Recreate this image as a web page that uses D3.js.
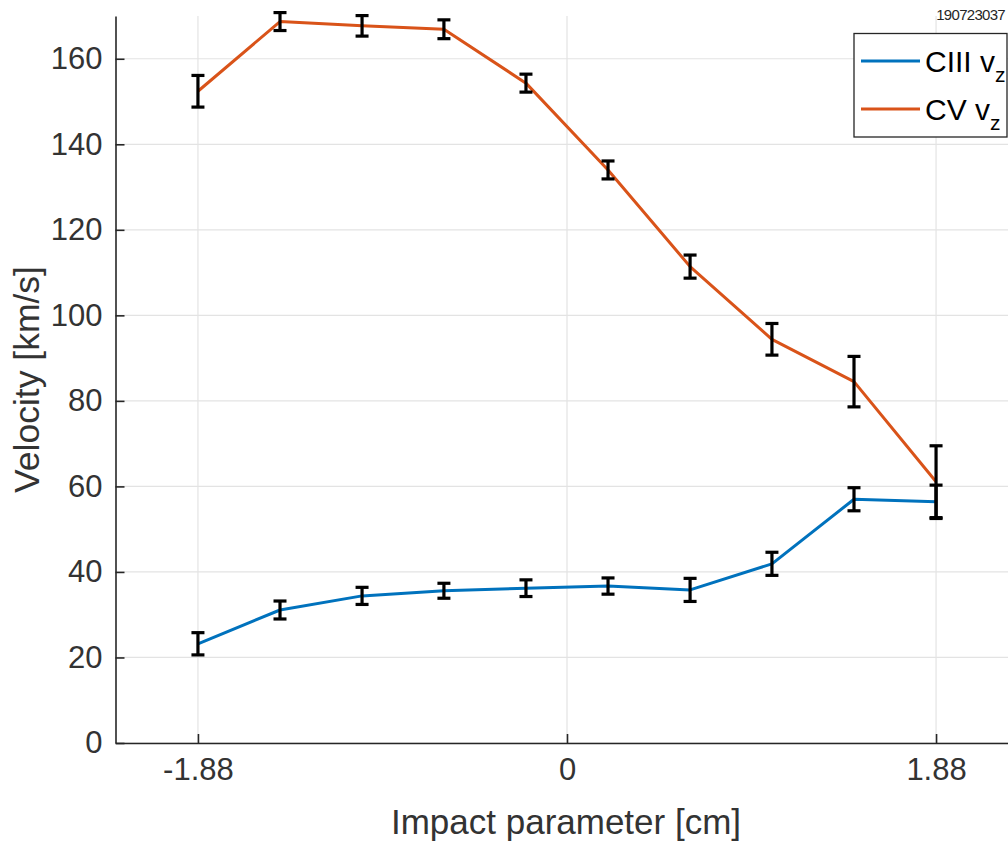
<!DOCTYPE html>
<html><head><meta charset="utf-8">
<script src="https://cdn.jsdelivr.net/npm/d3@7"></script>
<style>
html,body{margin:0;padding:0;background:#fff;}
svg{display:block;font-family:"Liberation Sans",Arial,Helvetica,sans-serif;}
</style></head>
<body><svg id="c" width="1008" height="841"></svg>
<script>
// Data
const impact = [-1.88, -1.462, -1.044, -0.627, -0.209, 0.209, 0.627, 1.044, 1.462, 1.88];
const ciiiVz = [23.2, 31.1, 34.4, 35.6, 36.2, 36.7, 35.8, 41.9, 57.0, 56.4];
const ciiiErr = [2.6, 2.1, 2.0, 1.75, 1.95, 1.9, 2.7, 2.7, 2.7, 3.9];
const cvVz = [152.4, 168.7, 167.7, 166.9, 154.3, 134.0, 111.4, 94.4, 84.5, 61.1];
const cvErr = [3.7, 2.1, 2.4, 2.2, 2.1, 2.1, 2.7, 3.7, 5.9, 8.4];
const xTicks = [-1.88, 0, 1.88];
const xTickLabels = ["-1.88", "0", "1.88"];
const yTicks = [0, 20, 40, 60, 80, 100, 120, 140, 160];
const seriesNames = ["CIII", "CV"];
const stamp = "190723037";

const svg = d3.select("#c");
const x = d3.scaleLinear().domain([-2.3, 2.3]).range([115.5, 1018.5]);
const y = d3.scaleLinear().domain([0, 170]).range([743, 16]);
const axisCol = "#262626";
const textCol = "#333333";

// grid
const g = svg.append("g");
g.selectAll("line.gy").data(yTicks).join("line")
  .attr("x1", x.range()[0]).attr("x2", x.range()[1])
  .attr("y1", d => y(d)).attr("y2", d => y(d))
  .attr("stroke", "#e3e3e3").attr("stroke-width", 1.2);
g.selectAll("line.gx").data(xTicks).join("line")
  .attr("x1", d => x(d)).attr("x2", d => x(d))
  .attr("y1", y.range()[0]).attr("y2", y.range()[1])
  .attr("stroke", "#e3e3e3").attr("stroke-width", 1.2);

// axes
const xAxis = d3.axisBottom(x).tickValues(xTicks).tickFormat((d, i) => xTickLabels[i]).tickSizeInner(-9).tickSizeOuter(0).tickPadding(15);
const yAxis = d3.axisLeft(y).tickValues(yTicks).tickSizeInner(-9).tickSizeOuter(0).tickPadding(13);
const gx = svg.append("g").attr("transform", `translate(0,${y(0)})`).call(xAxis);
const gy = svg.append("g").attr("transform", `translate(${x.range()[0]},0)`).call(yAxis);
[gx, gy].forEach(a => {
  a.select(".domain").attr("stroke", axisCol).attr("stroke-width", 1.6);
  a.selectAll(".tick line").attr("stroke", axisCol).attr("stroke-width", 1.6);
  a.selectAll(".tick text").attr("fill", textCol).style("font-size", "31px");
});
gx.selectAll(".tick text").attr("dy", "0.71em");

// labels
svg.append("text").attr("x", (x(-1.88) + x(1.88)) / 2 - 1).attr("y", 834)
  .attr("text-anchor", "middle").attr("fill", textCol).style("font-size", "35px")
  .text("Impact parameter [cm]");
svg.append("text").attr("transform", `translate(39,${(y(0) + y(170)) / 2}) rotate(-90)`)
  .attr("text-anchor", "middle").attr("fill", textCol).style("font-size", "35.5px")
  .text("Velocity [km/s]");

// series
const colors = ["#0072BD", "#D95319"];
const series = [
  {name: seriesNames[0], vals: ciiiVz, err: ciiiErr, color: colors[0]},
  {name: seriesNames[1], vals: cvVz, err: cvErr, color: colors[1]}
];
const line = d3.line().x(d => x(d[0])).y(d => y(d[1]));
series.forEach(s => {
  const pts = impact.map((v, i) => [v, s.vals[i], s.err[i]]);
  svg.append("path").datum(pts).attr("d", line).attr("fill", "none")
    .attr("stroke", s.color).attr("stroke-width", 3).attr("stroke-linejoin", "round");
  const eb = svg.append("g");
  const cap = 6.5;
  pts.forEach(p => {
    eb.append("line").attr("x1", x(p[0])).attr("x2", x(p[0]))
      .attr("y1", y(p[1] - p[2])).attr("y2", y(p[1] + p[2]))
      .attr("stroke", "#000").attr("stroke-width", 3.2);
    [p[1] - p[2], p[1] + p[2]].forEach(v => {
      eb.append("line").attr("x1", x(p[0]) - cap).attr("x2", x(p[0]) + cap)
        .attr("y1", y(v)).attr("y2", y(v)).attr("stroke", "#000").attr("stroke-width", 3.2);
    });
  });
});

// timestamp
svg.append("text").attr("x", 1005).attr("y", 20).attr("text-anchor", "end")
  .attr("fill", "#262626").style("font-size", "15px").style("letter-spacing", "-0.7px").text(stamp);

// legend
const lg = svg.append("g");
lg.append("rect").attr("x", 854).attr("y", 33.5).attr("width", 153).attr("height", 103.5)
  .attr("fill", "#fff").attr("stroke", axisCol).attr("stroke-width", 1.3);
series.forEach((s, i) => {
  const ly = 61 + i * 48;
  lg.append("line").attr("x1", 861).attr("x2", 920).attr("y1", ly).attr("y2", ly)
    .attr("stroke", s.color).attr("stroke-width", 3);
  const t = lg.append("text").attr("x", 925).attr("y", ly + 11).attr("fill", "#000").style("font-size", "30px");
  t.append("tspan").text(s.name + " v");
  t.append("tspan").attr("dy", 10).style("font-size", "21px").text("z");
});
</script></body></html>
